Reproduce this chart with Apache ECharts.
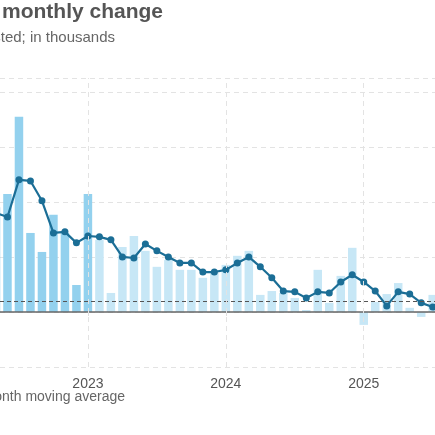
<!DOCTYPE html>
<html>
<head>
<meta charset="utf-8">
<script src="https://cdn.jsdelivr.net/npm/echarts@6/dist/echarts.min.js"></script>
<style>html,body{margin:0;padding:0;background:#fff}#chart{width:435px;height:435px}</style>
</head>
<body>
<div id="chart"></div>
<script>
// month index: 0 = Jan 2022
const months = [4, 5, 6, 7, 8, 9, 10, 11, 12, 13, 14, 15, 16, 17, 18, 19, 20, 21, 22, 23,
  24, 25, 26, 27, 28, 29, 30, 31, 32, 33, 34, 35, 36, 37, 38, 39, 40, 41, 42]
const monthlyChange = [380, 429, 709, 287, 218, 353, 287, 98, 429, 262, 69, 236, 276, 222, 164, 189, 153, 153, 124, 142,
  171, 204, 222, 62, 76, 69, 51, 7, 153, 33, 131, 233, -47, 36, 65, 105, 15, -18, 62]
const movingAvg = [360, 345, 480, 476, 404, 287, 291, 251, 276, 273, 262, 200, 196, 247, 222, 200, 178, 178, 145, 145,
  153, 178, 200, 164, 124, 76, 73, 51, 73, 69, 109, 135, 109, 76, 22, 73, 65, 33, 18]
const yearTicks = [12, 24, 36]
const yearLabels = { 12: '2023', 24: '2024', 36: '2025' }
const refLevel = 40

const chart = echarts.init(document.getElementById('chart'))

const barData = months.map((m, i) => ({
  value: [m, monthlyChange[i]],
  itemStyle: { color: m <= 12 ? '#93d1ee' : '#c7e7f6' }
}))

chart.setOption({
  animation: false,
  graphic: [
    { type: 'text', right: 272, top: 2, style: { text: 'Job growth, monthly change', fill: '#555', font: 'bold 21px "Liberation Sans", Arial' } },
    { type: 'text', right: 320, top: 30, style: { text: 'Seasonally adjusted; in thousands', fill: '#666', font: '15px "Liberation Sans", Arial' } },
    { type: 'text', right: 310, top: 390, style: { text: '3-month moving average', fill: '#666', font: '14px "Liberation Sans", Arial' } }
  ],
  grid: { left: 0, right: 0, top: 78, bottom: 68 },
  xAxis: {
    type: 'value',
    min: 4.35,
    max: 42.2,
    splitLine: { show: false },
    axisLine: { show: false },
    axisTick: { show: true, customValues: yearTicks, length: 4, lineStyle: { color: '#ddd' } },
    axisLabel: {
      customValues: yearTicks,
      formatter: v => yearLabels[v] || '',
      color: '#555',
      fontSize: 14,
      fontFamily: 'Liberation Sans, Arial',
      margin: 10
    }
  },
  yAxis: {
    type: 'value',
    min: -200,
    max: 850,
    interval: 200,
    axisLabel: { show: false },
    axisLine: { show: false },
    axisTick: { show: false },
    splitLine: { lineStyle: { type: [5, 4], color: '#e3e3e3' } }
  },
  series: [
    {
      type: 'bar',
      data: barData,
      barWidth: 8.5,
      markLine: {
        silent: true,
        symbol: 'none',
        label: { show: false },
        data: [
          { yAxis: 0, lineStyle: { color: '#666', type: 'solid', width: 1.5 } },
          { yAxis: refLevel, lineStyle: { color: '#555', type: [4, 3], width: 1 } },
          ...yearTicks.map(t => ({ xAxis: t, lineStyle: { color: '#e3e3e3', type: [5, 4], width: 1 } }))
        ]
      }
    },
    {
      type: 'line',
      data: months.map((m, i) => [m, movingAvg[i]]),
      symbol: 'circle',
      symbolSize: 7,
      lineStyle: { color: '#1b6e96', width: 2.2 },
      itemStyle: { color: '#1b6e96' }
    }
  ]
})
</script>
</body>
</html>
